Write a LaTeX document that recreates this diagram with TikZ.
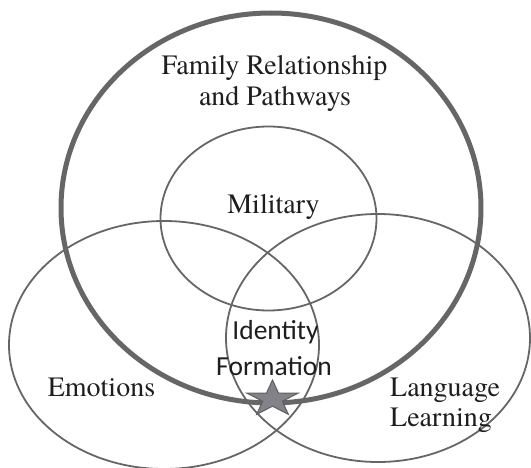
\documentclass[tikz,border=0pt]{standalone}
\usepackage{fontspec}
\newfontfamily\serifont{texgyretermes-regular.otf}
\newfontfamily\idfont{Carlito}
\definecolor{linegray}{RGB}{102,102,102}
\definecolor{textblack}{RGB}{30,30,30}
\definecolor{starfill}{RGB}{130,130,136}
\definecolor{starline}{RGB}{95,95,100}
\begin{document}
\begin{tikzpicture}[x=1pt,y=-1pt,
  ring/.style={draw=linegray, line width=1.8pt},
  bigring/.style={draw=linegray, line width=5pt},
  lbl/.style={font=\serifont\fontsize{28}{32}\selectfont, text=textblack, inner sep=0pt, anchor=base},
  idlbl/.style={font=\idfont\fontsize{27.5}{32}\selectfont, text=textblack, inner sep=0pt, anchor=base},
  starshape/.style={fill=starfill, draw=starline, line width=1pt, line join=miter}]
\useasboundingbox (0,0) rectangle (531,468);
\clip (0,0) rectangle (531,468);
% circles
\draw[ring] (164,345) ellipse [x radius=155, y radius=124];
\draw[ring] (378,338) ellipse [x radius=152, y radius=124];
\draw[ring] (268.5,218.5) ellipse [x radius=108, y radius=92];
\draw[bigring] (271,208) ellipse [x radius=210, y radius=195];
% labels
\node[lbl] (fam1) at (274.5,74.3) {Family Relationship};
\node[lbl] (fam2) at (275,105.7) {and Pathways};
\node[lbl] (mil) at (273.5,213.3) {Military};
\node[lbl] (emo) at (101.5,396.7) {Emotions};
\node[lbl, anchor=base west] (lang1) at (390,396.7) {Language};
\node[lbl, anchor=base west] (lang2) at (390,426.7) {Learning};
\node[idlbl] (id1) at (275.5,340) {Identity};
\node[idlbl] (id2) at (274,375) {Formation};
% star
\draw[starshape, shift={(272.5,399)}, xscale=27, yscale=19]
  (270:1) -- (306:0.382) -- (342:1) -- (18:0.382) -- (54:1) -- (90:0.382)
  -- (126:1) -- (162:0.382) -- (198:1) -- (234:0.382) -- cycle;
\end{tikzpicture}
\end{document}
